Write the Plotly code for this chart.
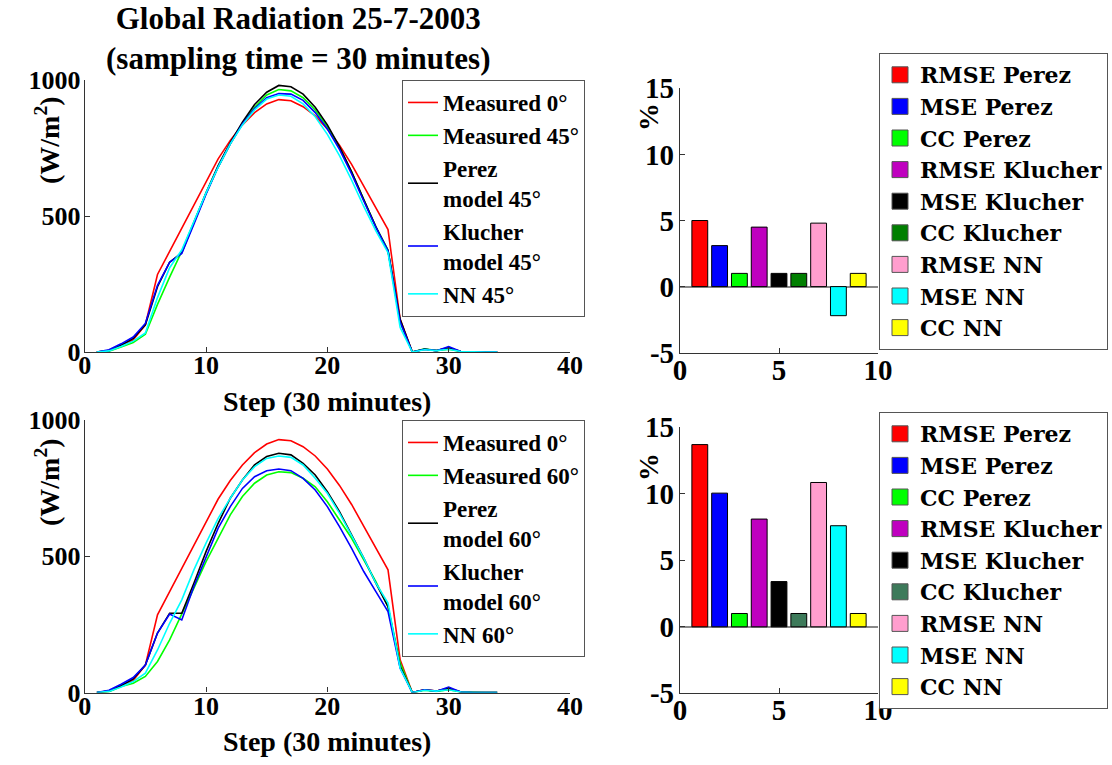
import plotly.graph_objects as go

# ---------------- data ----------------
steps = list(range(1, 35))

measured_0 = [0, 5, 25, 45, 100, 285, 370, 455, 545, 630, 710, 778, 835, 880, 912, 928,
              924, 902, 868, 820, 760, 690, 610, 530, 450, 120, 0, 10, 5, 15, 2, 0, 0, 0]

# top panel (45 deg)
measured_45 = [0, 3, 18, 35, 65, 175, 275, 370, 478, 583, 680, 765, 840, 900, 945, 965,
               960, 935, 890, 828, 752, 662, 560, 460, 375, 110, 0, 12, 5, 10, 2, 0, 0, 0]
perez_45 = [0, 5, 25, 50, 100, 240, 330, 365, 475, 585, 685, 770, 845, 910, 955, 980,
            975, 948, 900, 835, 755, 662, 560, 460, 372, 120, 0, 10, 5, 15, 2, 0, 0, 0]
klucher_45 = [0, 8, 30, 55, 105, 245, 330, 362, 470, 580, 680, 765, 838, 895, 935, 950,
              948, 925, 880, 820, 745, 655, 555, 458, 372, 110, 0, 10, 5, 20, 2, 0, 0, 0]
nn_45 = [0, 4, 20, 40, 70, 200, 310, 375, 480, 585, 680, 765, 835, 890, 930, 945,
         940, 912, 865, 800, 722, 632, 535, 445, 365, 90, 0, 8, 5, 10, 2, 0, 0, 0]

# bottom panel (60 deg)
measured_60 = [0, 3, 22, 34, 59, 114, 193, 285, 383, 480, 566, 652, 719, 768, 798, 810,
               807, 786, 755, 700, 633, 566, 487, 407, 315, 108, 0, 8, 4, 10, 2, 0, 0, 0]
perez_60 = [0, 5, 25, 50, 101, 218, 291, 291, 401, 517, 621, 713, 780, 835, 866, 878,
            872, 841, 798, 737, 664, 578, 493, 401, 315, 95, 0, 10, 5, 15, 2, 0, 0, 0]
klucher_60 = [0, 8, 30, 55, 101, 218, 288, 266, 389, 499, 603, 682, 749, 792, 814, 820,
              814, 786, 743, 682, 609, 529, 444, 370, 297, 89, 0, 10, 5, 20, 2, 0, 0, 0]
nn_60 = [0, 4, 20, 40, 71, 156, 254, 340, 450, 548, 639, 713, 780, 829, 859, 868,
         863, 835, 786, 731, 658, 578, 493, 401, 328, 89, 0, 8, 5, 10, 2, 0, 0, 0]

bar_names = ["RMSE Perez", "MSE Perez", "CC Perez", "RMSE Klucher", "MSE Klucher",
             "CC Klucher", "RMSE NN", "MSE NN", "CC NN"]
bar_pos = [1, 2, 3, 4, 5, 6, 7, 8, 9]
bars_45 = [5.0, 3.1, 1.0, 4.5, 1.0, 1.0, 4.8, -2.2, 1.0]
bars_60 = [13.7, 10.05, 1.0, 8.1, 3.4, 1.0, 10.85, 7.6, 1.0]
bar_colors_45 = ["#FF0000", "#0000FF", "#00FF00", "#BF00BF", "#000000", "#007F00",
                 "#FF9ECE", "#00FFFF", "#FFFF00"]
bar_colors_60 = ["#FF0000", "#0000FF", "#00FF00", "#BF00BF", "#000000", "#3D7A5A",
                 "#FF9ECE", "#00FFFF", "#FFFF00"]

left_xticks = [0, 10, 20, 30, 40]
left_yticks = [0, 500, 1000]
bar_xticks = [0, 5, 10]
bar_yticks = [-5, 0, 5, 10, 15]
bar_yticktext = ["-5", "0", "5", "10", "15"]

line_specs_45 = [("Measured 0°", measured_0, "#FF0000"),
                 ("Measured 45°", measured_45, "#00FF00"),
                 ("Perez<br>model 45°", perez_45, "#000000"),
                 ("Klucher<br>model 45°", klucher_45, "#0000FF"),
                 ("NN 45°", nn_45, "#00FFFF")]
line_specs_60 = [("Measured 0°", measured_0, "#FF0000"),
                 ("Measured 60°", measured_60, "#00FF00"),
                 ("Perez<br>model 60°", perez_60, "#000000"),
                 ("Klucher<br>model 60°", klucher_60, "#0000FF"),
                 ("NN 60°", nn_60, "#00FFFF")]

# ---------------- figure ----------------
W, H = 1112, 765
FONT = "Liberation Serif"
WIDE = "DejaVu Serif"
fig = go.Figure()

for name, vals, col in line_specs_45:
    fig.add_trace(go.Scatter(x=steps, y=vals, mode="lines", name=name,
                             line=dict(color=col, width=1.6),
                             xaxis="x", yaxis="y", legend="legend"))
for name, vals, col in line_specs_60:
    fig.add_trace(go.Scatter(x=steps, y=vals, mode="lines", name=name,
                             line=dict(color=col, width=1.6),
                             xaxis="x2", yaxis="y2", legend="legend2"))

for vals, cols, xa, ya, lg in ((bars_45, bar_colors_45, "x3", "y3", "legend3"),
                               (bars_60, bar_colors_60, "x4", "y4", "legend4")):
    for i, name in enumerate(bar_names):
        fig.add_trace(go.Bar(x=[bar_pos[i]], y=[vals[i]], name=name, width=0.8,
                             marker=dict(color=cols[i], line=dict(color="#000", width=1)),
                             xaxis=xa, yaxis=ya, showlegend=False))
        # legend entry with a larger square swatch
        fig.add_trace(go.Scatter(x=[None], y=[None], mode="markers", name=name,
                                 marker=dict(symbol="square", size=16, color=cols[i],
                                             line=dict(color="#555", width=1)),
                                 xaxis=xa, yaxis=ya, legend=lg))


def px_x(p):
    return p / W


def px_y(p):
    return 1 - p / H


def axis_style(size, standoff):
    return dict(showgrid=False, zeroline=False, showline=True, linecolor="#333",
                linewidth=1.2, ticks="inside", ticklen=5, tickcolor="#333",
                automargin=False, ticklabelstandoff=standoff,
                tickfont=dict(family=FONT, size=size, color="#000", weight="bold"))


left_x = [px_x(84.7), px_x(570)]
right_x = [px_x(680), px_x(878)]
zl = dict(zeroline=True, zerolinecolor="#888", zerolinewidth=1.5)

fig.update_layout(
    xaxis=dict(domain=left_x, range=[0, 40], tickvals=left_xticks, anchor="y",
               **axis_style(26, -10)),
    yaxis=dict(domain=[px_y(352), px_y(80)], range=[0, 1000], tickvals=left_yticks,
               anchor="x", **axis_style(26, -2)),
    xaxis2=dict(domain=left_x, range=[0, 40], tickvals=left_xticks, anchor="y2",
                **axis_style(26, -10)),
    yaxis2=dict(domain=[px_y(692.5), px_y(420)], range=[0, 1000], tickvals=left_yticks,
                anchor="x2", **axis_style(26, -2)),
    xaxis3=dict(domain=right_x, range=[0, 10], tickvals=bar_xticks, anchor="y3",
                **axis_style(29, -9)),
    yaxis3=dict(domain=[px_y(352.7), px_y(88.3)], range=[-5, 15], tickvals=bar_yticks,
                ticktext=bar_yticktext, anchor="x3", **{**axis_style(29, -1), **zl}),
    xaxis4=dict(domain=right_x, range=[0, 10], tickvals=bar_xticks, anchor="y4",
                **axis_style(29, -9)),
    yaxis4=dict(domain=[px_y(693.3), px_y(427.3)], range=[-5, 15], tickvals=bar_yticks,
                ticktext=bar_yticktext, anchor="x4", **{**axis_style(29, -1), **zl}),
)

leg_common = dict(xanchor="left", yanchor="top", bgcolor="#FFFFFF", bordercolor="#555",
                  borderwidth=1, traceorder="normal", tracegroupgap=0, itemclick=False,
                  itemsizing="trace")
line_leg_font = dict(family=FONT, size=23, color="#000", weight="bold")
bar_leg_font = dict(family=WIDE, size=22, color="#000", weight="bold")
fig.update_layout(
    legend=dict(x=px_x(402), y=px_y(80), font=line_leg_font, **leg_common),
    legend2=dict(x=px_x(402), y=px_y(420), font=line_leg_font, **leg_common),
    legend3=dict(x=px_x(879), y=px_y(53), font=bar_leg_font, **leg_common),
    legend4=dict(x=px_x(879), y=px_y(412), font=bar_leg_font, **leg_common),
)

lab_font = dict(family=FONT, size=28, color="#000", weight="bold")
fig.add_annotation(text="Global Radiation 25-7-2003<br>(sampling time = 30 minutes)",
                   x=px_x(298), y=px_y(38.5), xref="paper", yref="paper", showarrow=False,
                   xanchor="center", yanchor="middle",
                   font=dict(family=FONT, size=31, color="#000", weight="bold"))
for yc in (401, 741):
    fig.add_annotation(text="Step (30 minutes)", x=px_x(327), y=px_y(yc), xref="paper",
                       yref="paper", showarrow=False, xanchor="center", yanchor="middle",
                       font=lab_font)
for yc in (140, 482):
    fig.add_annotation(text="(W/m<sup>2</sup>)", x=px_x(47), y=px_y(yc), xref="paper",
                       yref="paper", showarrow=False, textangle=-90, xanchor="center",
                       yanchor="middle", font=lab_font)
for yc in (117, 467):
    fig.add_annotation(text="%", x=px_x(648), y=px_y(yc), xref="paper", yref="paper",
                       showarrow=False, textangle=-90, xanchor="center", yanchor="middle",
                       font=lab_font)

fig.update_layout(template="none", width=W, height=H, autosize=False,
                  margin=dict(l=0, r=0, t=0, b=0, pad=0, autoexpand=False),
                  paper_bgcolor="#FFFFFF", plot_bgcolor="#FFFFFF",
                  barmode="overlay", showlegend=True,
                  font=dict(family=FONT, color="#000"))

fig.write_html("out.html", config={"displayModeBar": False},
               post_script="document.body.style.margin='0';")
